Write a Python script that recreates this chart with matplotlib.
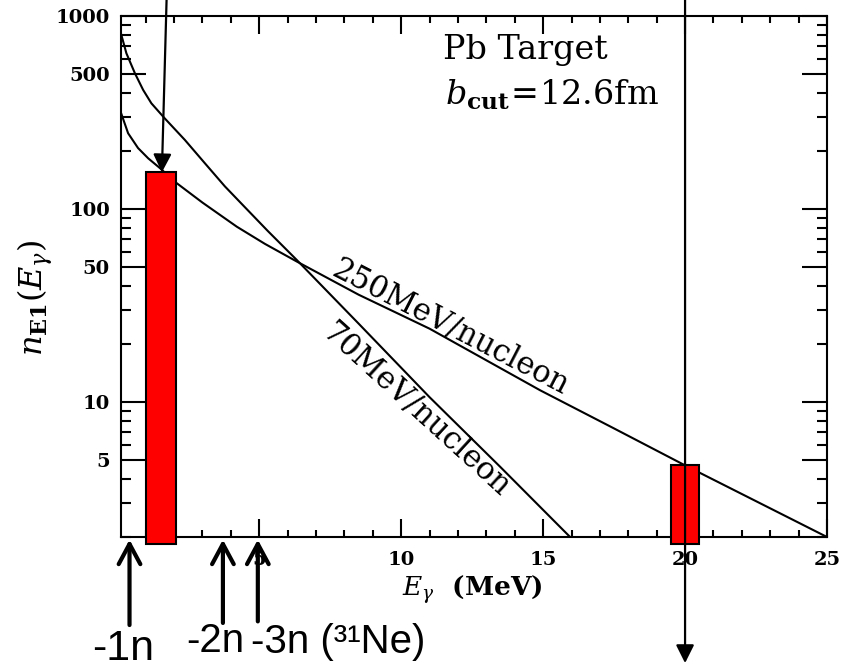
import numpy as np
import matplotlib.pyplot as plt
from matplotlib.ticker import NullFormatter

plt.rcParams['font.family'] = 'DejaVu Serif'
plt.rcParams['mathtext.fontset'] = 'dejavuserif'

# equivalent photon numbers
e_70 = [0.13, 0.32, 0.62, 0.91, 1.2, 1.67, 2.38, 3.08, 3.79, 4.5, 5.3, 6.32,
        8.5, 11.0, 13.5, 15.95]
n_70 = [810, 641, 505, 414, 353, 295, 228, 173, 131, 102, 77, 54.5,
        25.5, 10.6, 4.6, 2.0]
e_250 = [0.13, 0.38, 0.73, 1.09, 1.5, 2.04, 3.0, 4.21, 5.2, 6.32, 8.5, 11.0,
         14.9, 17.5, 20.0, 25.0]
n_250 = [315, 247, 207, 183, 163, 138, 108, 81, 66, 53.5, 36, 24,
         11.5, 7.3, 4.7, 2.0]

# red boxes
bar_left = [1.0, 19.5]
bar_right = [2.05, 20.5]
bar_top = [155, 4.7]
bar_bottom = 1.85

# neutron thresholds (MeV)
thresholds = [0.43, 3.72, 4.95]

x_major = [5, 10, 15, 20, 25]
x_minor = [i for i in range(1, 25) if i % 5 != 0]
y_major = [5, 10, 50, 100, 500, 1000]
y_labels = ['5', '10', '50', '100', '500', '1000']
y_minor = [2, 3, 4, 6, 7, 8, 9, 20, 30, 40, 60, 70, 80, 90,
           200, 300, 400, 600, 700, 800, 900]

fig = plt.figure(figsize=(8.47, 6.70), dpi=100)
ax = fig.add_axes([121/847, 1-537/670, 706/847, 521/670])

ax.plot(e_70, n_70, color='k', lw=1.5, zorder=2)
ax.plot(e_250, n_250, color='k', lw=1.5, zorder=2)

widths = np.array(bar_right) - np.array(bar_left)
heights = np.array(bar_top) - bar_bottom
ax.bar(bar_left, heights, width=widths, bottom=bar_bottom, align='edge',
       color='#ff0000', edgecolor='k', lw=1.5, clip_on=False, zorder=3)

ax.set_yscale('log')
ax.set_xlim(0.13, 25)
ax.set_ylim(2, 1000)

ax.set_xticks(x_major)
ax.set_xticklabels([str(v) for v in x_major])
ax.set_xticks(x_minor, minor=True)
ax.set_yticks(y_major)
ax.set_yticklabels(y_labels)
ax.set_yticks(y_minor, minor=True)
ax.yaxis.set_minor_formatter(NullFormatter())

ax.tick_params(which='both', direction='in', top=True, right=True, width=1.5)
ax.tick_params(axis='x', which='major', length=13, pad=10)
ax.tick_params(axis='x', which='minor', length=5)
ax.tick_params(axis='y', which='major', length=18, pad=8)
ax.tick_params(axis='y', which='minor', length=7)
for lbl in ax.get_xticklabels() + ax.get_yticklabels():
    lbl.set_fontweight('bold')
    lbl.set_fontsize(14)
for s in ax.spines.values():
    s.set_linewidth(1.5)

# curve labels
ax.text(11.73, 24.3, '250MeV/nucleon', rotation=-27.3, rotation_mode='anchor',
        ha='center', va='center', fontsize=22)
ax.text(10.53, 9.1, '70MeV/nucleon', rotation=-42.3, rotation_mode='anchor',
        ha='center', va='center', fontsize=22)

ax.text(0.456, 0.917, 'Pb Target', transform=ax.transAxes, fontsize=24,
        va='baseline')
ax.text(0.459, 0.829, r'$b_{\mathbf{cut}}\!=\!\mathrm{12.6fm}$', transform=ax.transAxes,
        fontsize=24, va='baseline')

fig.text(472/847, 1-590/670, r'$E_{\gamma}$  (MeV)', ha='center', va='center',
         fontsize=19, fontweight='bold')
fig.text(35/847, 1-298/670, r'$n_{\mathbf{E1}}(E_{\gamma})$', ha='center', va='center',
         rotation=90, fontsize=23)

# arrows from the top
top_head = dict(arrowstyle='-|>,head_length=1.1,head_width=0.55', mutation_scale=10,
                lw=1.6, color='k', shrinkA=0, shrinkB=0)
ax.annotate('', xy=(1.57, bar_top[0]), xycoords='data',
            xytext=(1.74, 1.04), textcoords=('data', 'axes fraction'),
            arrowprops=top_head, annotation_clip=False, zorder=5)
ax.annotate('', xy=(20, -0.242), xycoords=('data', 'axes fraction'),
            xytext=(20, 1.04), textcoords=('data', 'axes fraction'),
            arrowprops=top_head, annotation_clip=False, zorder=5)

# threshold arrows below the axis
thr_head = dict(arrowstyle='->,head_length=1.45,head_width=0.78', mutation_scale=10,
                lw=3, color='k', shrinkA=0, shrinkB=0)
tails = [-0.169, -0.165, -0.162]
for xt, yt in zip(thresholds, tails):
    ax.annotate('', xy=(xt, -0.005), xycoords=('data', 'axes fraction'),
                xytext=(xt, yt), textcoords=('data', 'axes fraction'),
                arrowprops=thr_head, annotation_clip=False, zorder=6)

fig.text(123/847, 1-660/670, '-1n', ha='center', va='baseline',
         family='Liberation Sans', fontsize=31)
fig.text(215/847, 1-652/670, '-2n', ha='center', va='baseline',
         family='Liberation Sans', fontsize=29)
fig.text(251/847, 1-653/670, '-3n (³¹Ne)', ha='left', va='baseline',
         family='Liberation Sans', fontsize=29)

fig.savefig('out.png', dpi=100)
